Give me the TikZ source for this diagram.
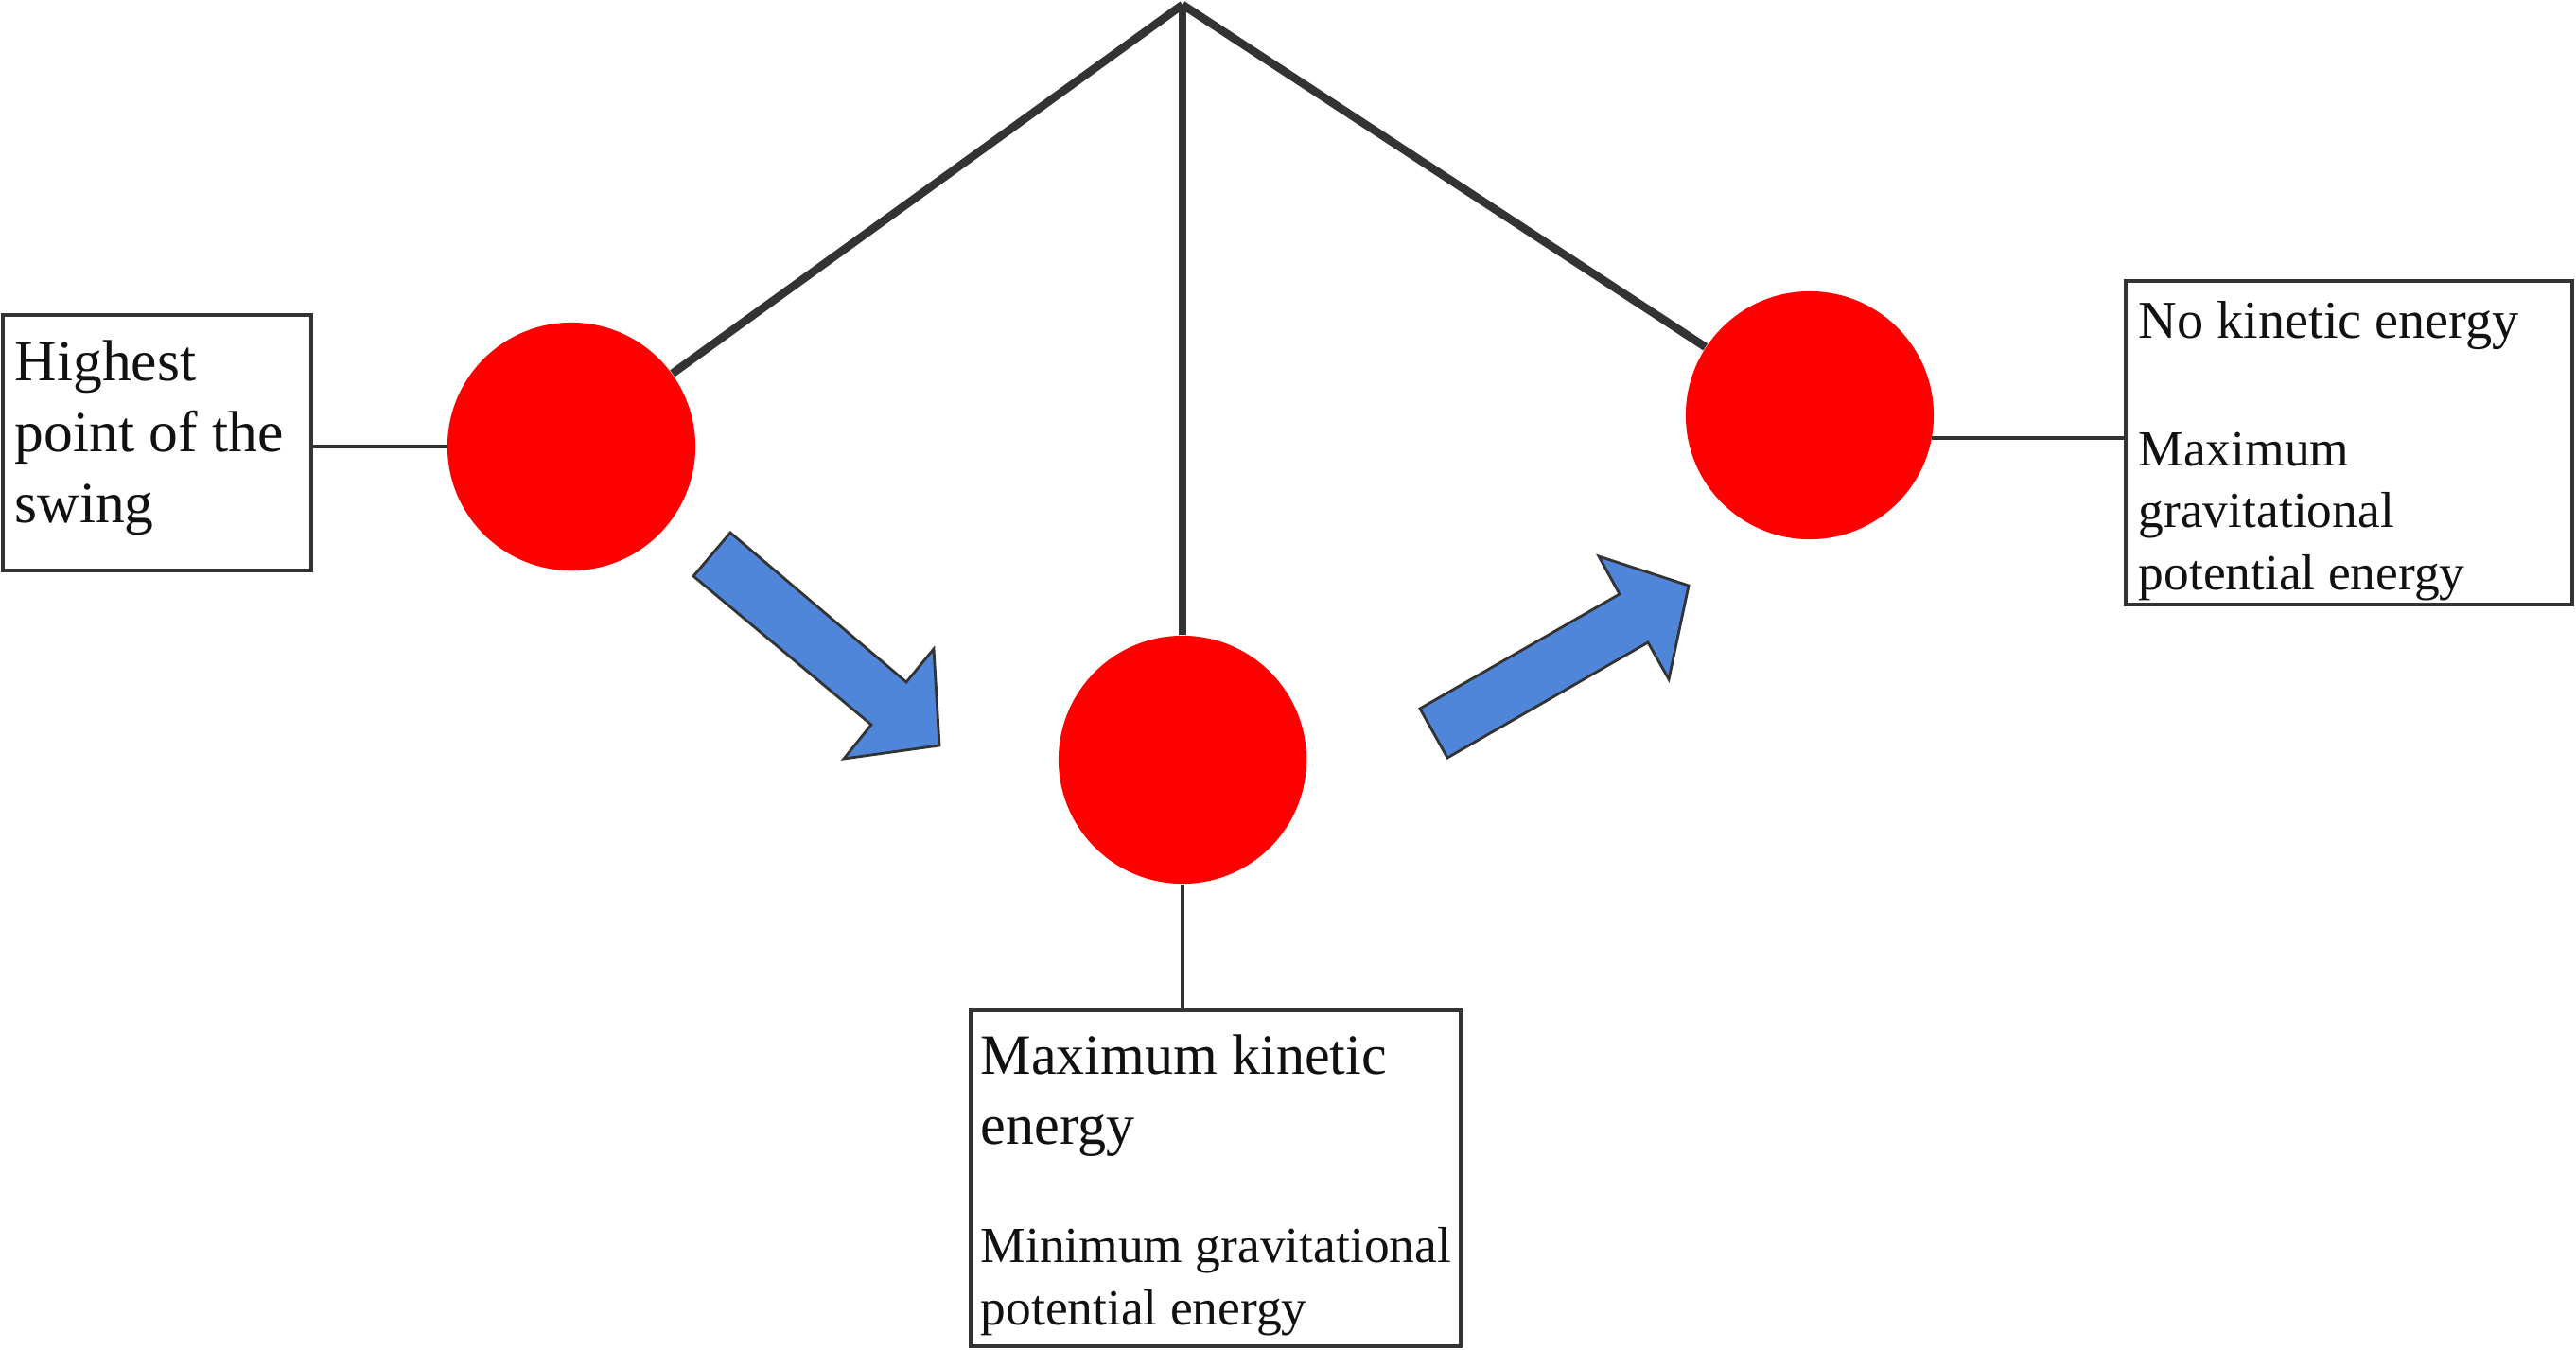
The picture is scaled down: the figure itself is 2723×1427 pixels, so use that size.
\documentclass[tikz,border=0pt]{standalone}
\usepackage{fontspec}
\setmainfont{Liberation Serif}
\definecolor{linegray}{HTML}{333333}
\definecolor{bobred}{HTML}{FF0000}
\definecolor{arrowblue}{HTML}{4F86D9}
\definecolor{textblack}{HTML}{111111}
\begin{document}
\begin{tikzpicture}[x=0.01cm,y=-0.01cm,
  pend/.style={draw=linegray, line width=2.45pt},
  conn/.style={draw=linegray, line width=1pt},
  infobox/.style={rectangle, draw=linegray, line width=1pt, inner sep=0pt},
  bob/.style={circle, fill=bobred, minimum size=2.62cm, inner sep=0pt},
  flowarrow/.style={fill=arrowblue, draw=linegray, line width=0.8pt, line join=miter},
  txt/.style={anchor=base west, inner sep=0pt, text=textblack},
  bigtxt/.style={txt, font=\fontsize{17.5}{21}\selectfont},
  midtxt/.style={txt, font=\fontsize{16}{19}\selectfont},
  smalltxt/.style={txt, font=\fontsize{15.2}{18}\selectfont}]
\useasboundingbox (0,0) rectangle (2723,1427);

% boxes
\node[infobox, minimum width=3.26cm, minimum height=2.70cm] (lbox) at (166,468) {};
\node[infobox, minimum width=5.18cm, minimum height=3.55cm] (mbox) at (1285,1245.5) {};
\node[infobox, minimum width=4.72cm, minimum height=3.42cm] (rbox) at (2483,468) {};

% bobs
\node[bob] (lc) at (604,472) {};
\node[bob] (mc) at (1250,803) {};
\node[bob] (rc) at (1913,439) {};

% pendulum strings
\coordinate (pivot) at (1250,5);
\draw[pend] (pivot) -- (lc);
\draw[pend] (pivot) -- (mc);
\draw[pend] (pivot) -- (rc);

% connectors
\draw[conn] (lc.west) -- (lc.west -| lbox.east);
\draw[conn] (mc.south) -- (mc.south |- mbox.north);
\coordinate (rj) at (2247,463);
\coordinate (rcE) at (2041.8,463);
\draw[conn] (rcE) -- (rj);

% motion arrows
\draw[flowarrow] (772,563) -- (733,609) -- (921,766) -- (892,802) -- (993,788)
  -- (987,686) -- (958,721) -- cycle;
\draw[flowarrow] (1530,801) -- (1501,749) -- (1712,628) -- (1690,588) -- (1785,619)
  -- (1764,718) -- (1742,679) -- cycle;

% left box text
\node[bigtxt] (l1) at (15,402) {Highest};
\node[bigtxt] (l2) at (15,477) {point of the};
\node[bigtxt] (l3) at (15,552) {swing};

% middle box text
\node[bigtxt, font=\fontsize{17.1}{21}\selectfont] (m1) at (1036,1135) {Maximum kinetic};
\node[bigtxt, font=\fontsize{17.1}{21}\selectfont] (m2) at (1036,1209) {energy};
\node[smalltxt] (m3) at (1036,1334) {Minimum gravitational};
\node[smalltxt] (m4) at (1036,1400) {potential energy};

% right box text
\node[midtxt] (r1) at (2260,357) {No kinetic energy};
\node[smalltxt] (r2) at (2260,492) {Maximum};
\node[smalltxt] (r3) at (2260,557) {gravitational};
\node[smalltxt] (r4) at (2260,623) {potential energy};
\end{tikzpicture}
\end{document}
